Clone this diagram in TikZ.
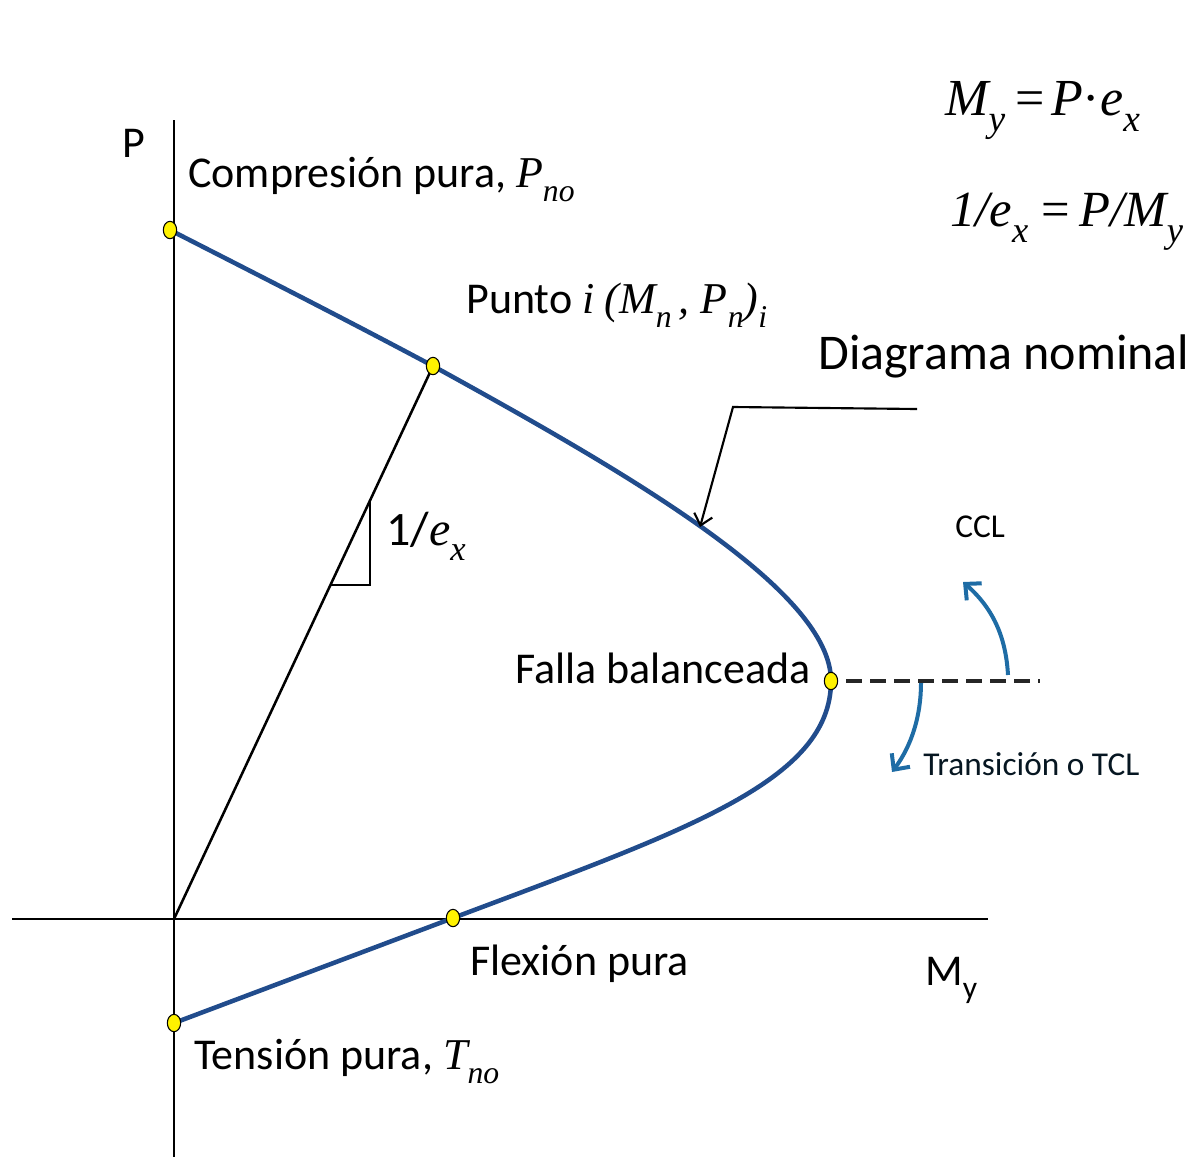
\documentclass[tikz,border=0pt]{standalone}
\usepackage{fontspec}
\setmainfont{Carlito}
\newfontfamily\tms{Liberation Serif}
\usetikzlibrary{arrows.meta,shapes.geometric}
\definecolor{curveblue}{RGB}{33,76,140}
\definecolor{arrblue}{RGB}{30,108,165}
\newcommand\tv[1]{{\tms\itshape #1}}
\newcommand\lsub[1]{\raisebox{-0.32em}{\scalebox{0.72}{\tms\itshape #1}}}
\tikzset{
  axisline/.style={line width=2.2pt,black},
  curveline/.style={line width=3.4pt,curveblue},
  dotnode/.style={ellipse,draw=black,line width=0.8pt,fill=yellow,inner sep=0pt,minimum width=10pt,minimum height=13pt},
  lbl/.style={anchor=base west,inner sep=0pt,font=\fontsize{33}{36}\selectfont},
  smalllbl/.style={anchor=base west,inner sep=0pt,font=\fontsize{25}{28}\selectfont},
  bluearrow/.style={line width=3pt,arrblue,-{Straight Barb[length=9pt,width=17pt,line width=3pt]}},
}
\begin{document}
\begin{tikzpicture}[x=0.75pt,y=-0.75pt]
\useasboundingbox (0,0) rectangle (1199,1157);
% axes
\coordinate (vtop) at (174,120);
\coordinate (vbot) at (174,1157);
\coordinate (hleft) at (12,919);
\coordinate (hright) at (988,919);
\coordinate (O) at (174,919);
\draw[axisline] (vtop) -- (vbot);
\draw[axisline] (hleft) -- (hright);
% key points
\coordinate (c) at (170,230);
\coordinate (pi) at (433,366);
\coordinate (b) at (831,681);
\coordinate (f) at (453,918);
\coordinate (t) at (174,1023);
% radial line and slope triangle
\draw[line width=1.9pt] (O) -- (pi);
\coordinate (tri1) at (370,500);
\coordinate (tri2) at (370,585);
\coordinate (tri3) at (330,585);
\draw[line width=1.2pt] (tri1) -- (tri2) -- (tri3);
% interaction curve
\draw[curveline,line join=round] (c) .. controls (260,276) and (343,318) .. (pi)
  .. controls (633,476) and (831,591) .. (b)
  .. controls (831,781) and (687,830) .. (f) -- (t);
% dashed line
\coordinate (d1) at (846,681);
\coordinate (d2) at (1040,681);
\draw[line width=3pt,dash pattern=on 12pt off 6pt,black!85] (d1) -- (d2);
% blue arrows
\coordinate (a1s) at (1008,675);
\coordinate (a1e) at (963,582);
\draw[bluearrow] (a1s) .. controls (1006,640) and (995,610) .. (a1e);
\coordinate (a2s) at (921,683);
\coordinate (a2e) at (892,772);
\draw[bluearrow] (a2s) .. controls (921,715) and (912,745) .. (a2e);
% pointer to the curve
\coordinate (p1) at (917,409);
\coordinate (p2) at (733,407);
\coordinate (p3) at (700,527);
\draw[line width=1.6pt,-{Straight Barb[length=8pt,width=14pt,line width=1.6pt]}] (p1) -- (p2) -- (p3);
% dots
\node[dotnode] (C) at (c) {};
\node[dotnode] (Pi) at (pi) {};
\node[dotnode] (B) at (b) {};
\node[dotnode] (F) at (f) {};
\node[dotnode] (T) at (t) {};
% labels
\node[lbl] (lP) at (122,157) {P};
\node[lbl] (lC) at (188,187) {Compresión pura, \tv{P}\lsub{no}};
\node[lbl] (lPi) at (466,313) {Punto \tv{i} \tv{(M}\lsub{n}\,\tv{, P}\lsub{n}\tv{)}\lsub{i}};
\node[anchor=base west,inner sep=0pt,font=\fontsize{37.5}{40}\selectfont] (lD) at (818,369) {Diagrama nominal};
\node[anchor=base west,inner sep=0pt,font=\fontsize{36}{40}\selectfont] (lE) at (386,545) {1/\tv{e}\lsub{x}};
\node[smalllbl] (lCCL) at (955,537) {CCL};
\node[lbl] (lB) at (515,683) {Falla balanceada};
\node[smalllbl,text=black!80!arrblue] (lTCL) at (923,775) {Transición o TCL};
\node[lbl] (lF) at (470,975) {Flexión pura};
\node[lbl] (lM) at (925,985) {M\raisebox{-0.3em}{\scalebox{0.72}{y}}};
\node[lbl] (lT) at (194,1069) {Tensión pura, \tv{T}\lsub{no}};
\node[anchor=base west,inner sep=0pt,font=\fontsize{39}{44}\selectfont] (eq1) at (945,115) {\tv{M}\lsub{y}\hspace{0.2em}{\tms=}\hspace{0.12em}\tv{P}{\tms·}\tv{e}\lsub{x}};
\node[anchor=base west,inner sep=0pt,font=\fontsize{38}{44}\selectfont] (eq2) at (950,226) {\tv{1/e}\lsub{x}\hspace{0.25em}{\tms=}\hspace{0.2em}\tv{P/M}\lsub{y}};
\end{tikzpicture}
\end{document}
